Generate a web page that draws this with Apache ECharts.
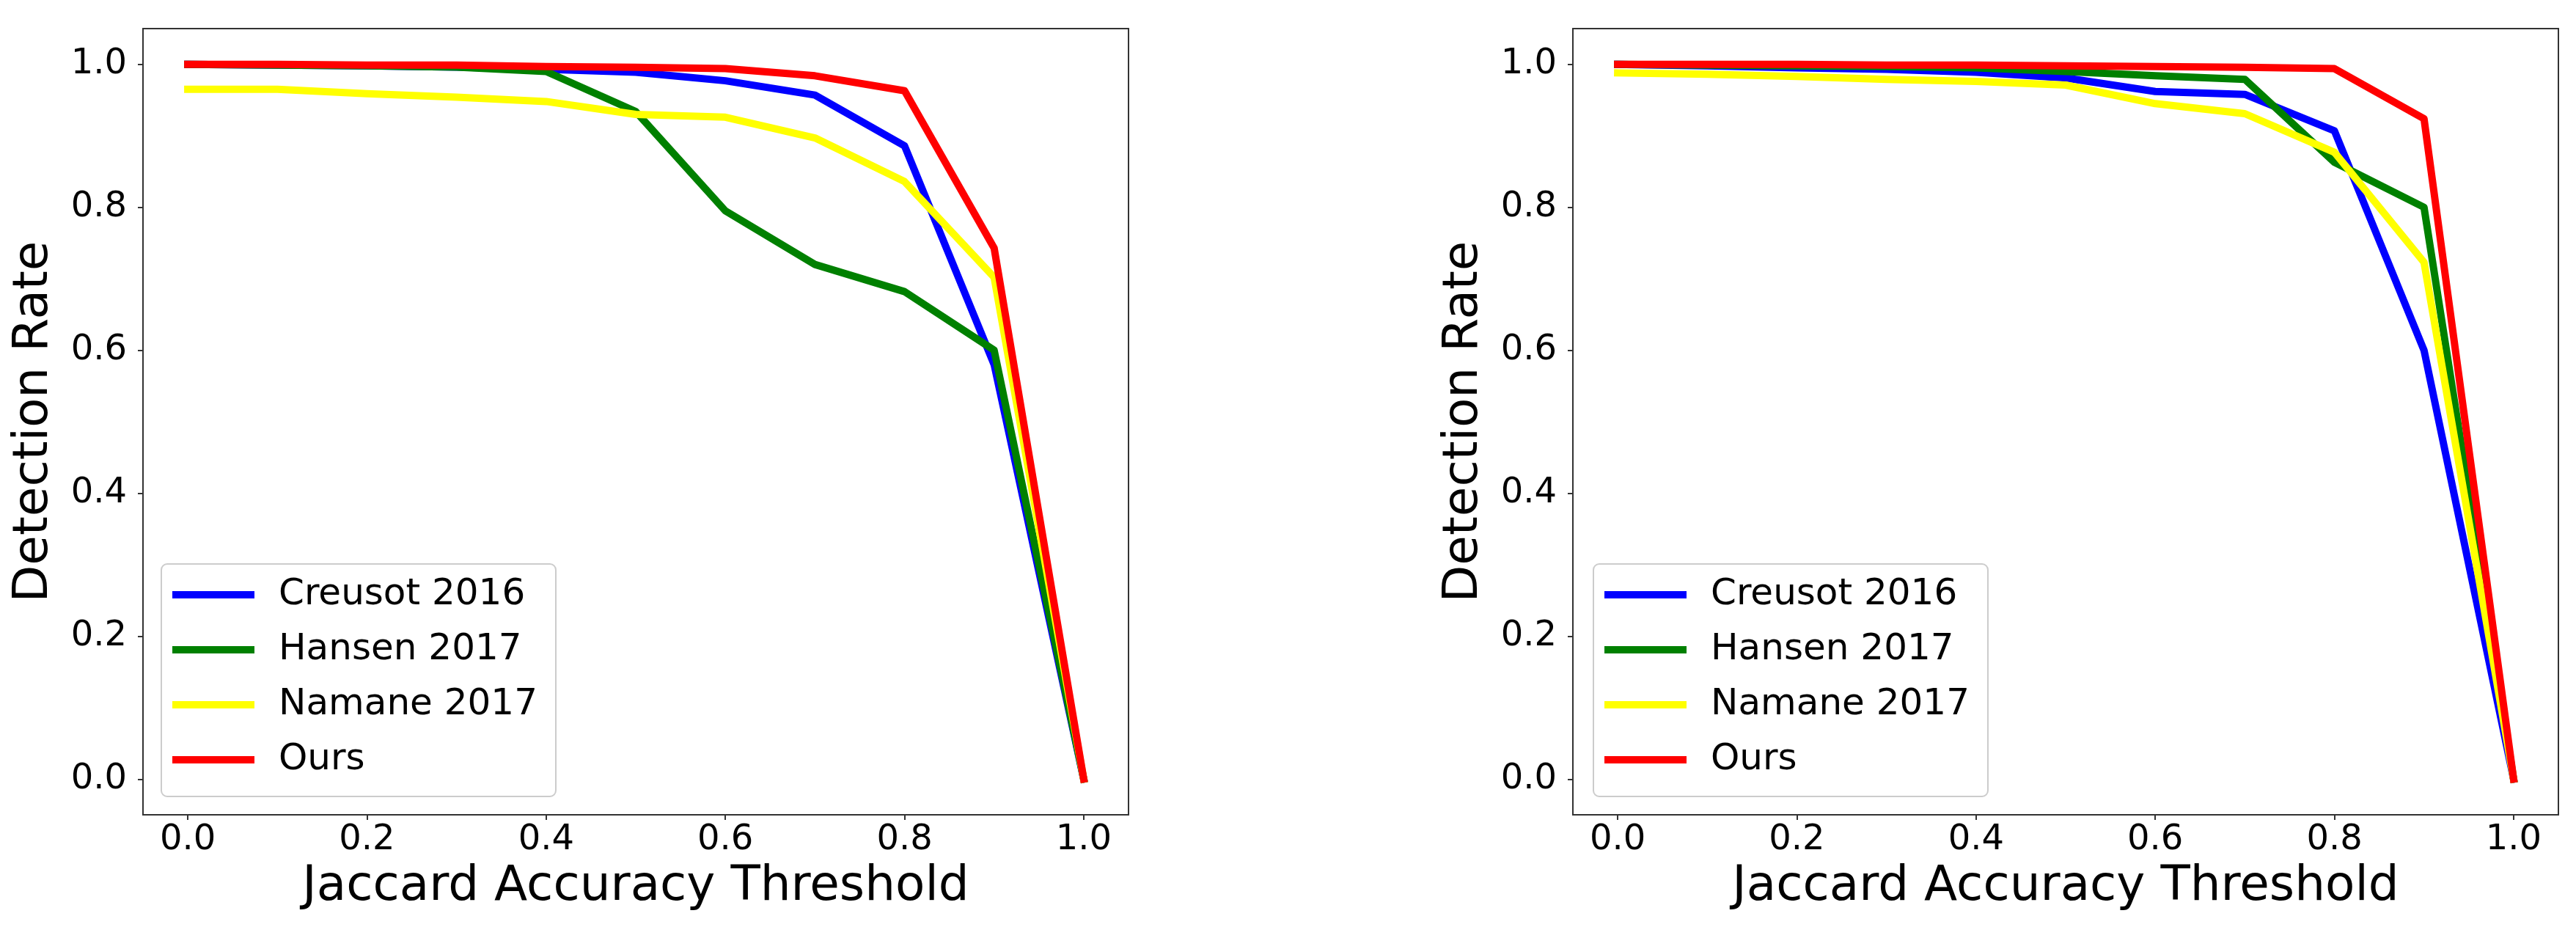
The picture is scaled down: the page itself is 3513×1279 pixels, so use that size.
<!DOCTYPE html>
<html>
<head>
<meta charset="utf-8">
<title>Detection Rate vs Jaccard Accuracy Threshold</title>
<script src="https://cdn.jsdelivr.net/npm/echarts@6/dist/echarts.min.js"></script>
<style>
    html, body { margin: 0; padding: 0; background: #fff; }
    #main { width: 3513px; height: 1279px; }
</style>
</head>
<body>
<div id="main"></div>
<script>
// thresholds on the x axis
var thresholds = [0, 0.1, 0.2, 0.3, 0.4, 0.5, 0.6, 0.7, 0.8, 0.9, 1.0];
var tickValues = [0, 0.2, 0.4, 0.6, 0.8, 1.0];
var methodNames = ['Creusot 2016', 'Hansen 2017', 'Namane 2017', 'Ours'];
var methodColors = ['#0000ff', '#008000', '#ffff00', '#ff0000'];

// left plot
var creusotLeft = [1.0, 0.999, 0.998, 0.996, 0.993, 0.989, 0.977, 0.957, 0.886, 0.58, 0];
var hansenLeft  = [1.0, 0.999, 0.998, 0.996, 0.990, 0.934, 0.795, 0.72, 0.682, 0.600, 0];
var namaneLeft  = [0.965, 0.965, 0.959, 0.954, 0.948, 0.930, 0.926, 0.897, 0.836, 0.702, 0];
var oursLeft    = [1.0, 1.0, 0.999, 0.999, 0.997, 0.996, 0.994, 0.984, 0.963, 0.743, 0];

// right plot
var creusotRight = [1.0, 0.998, 0.995, 0.993, 0.989, 0.981, 0.962, 0.958, 0.907, 0.600, 0];
var hansenRight  = [1.0, 0.999, 0.998, 0.997, 0.995, 0.990, 0.984, 0.979, 0.863, 0.800, 0];
var namaneRight  = [0.988, 0.986, 0.983, 0.979, 0.976, 0.971, 0.945, 0.931, 0.877, 0.723, 0];
var oursRight    = [1.0, 1.0, 1.0, 0.999, 0.999, 0.998, 0.997, 0.996, 0.994, 0.924, 0];

var FONT = '"DejaVu Sans", "Liberation Sans", sans-serif';

// pair each value with its threshold
var toPoints = function (values) {
    return thresholds.map(function (x, i) {
        return [x, values[i]];
    });
};

var makeX = function (gridIndex) {
    return {
        type: 'value',
        gridIndex: gridIndex,
        min: -0.05,
        max: 1.05,
        name: 'Jaccard Accuracy Threshold',
        nameLocation: 'middle',
        nameGap: 66,
        nameTextStyle: { fontFamily: FONT, fontSize: 66, color: '#000' },
        axisLine: { show: false, onZero: false },
        axisTick: {
            show: true, length: 7, customValues: tickValues,
            lineStyle: { color: '#333', width: 2 }
        },
        axisLabel: {
            customValues: tickValues, margin: 11,
            fontFamily: FONT, fontSize: 48, color: '#000',
            formatter: function (v) { return v.toFixed(1); }
        },
        splitLine: { show: false }
    };
};

var makeY = function (gridIndex) {
    return {
        type: 'value',
        gridIndex: gridIndex,
        min: -0.05,
        max: 1.05,
        name: 'Detection Rate',
        nameLocation: 'middle',
        nameGap: 115,
        nameTextStyle: { fontFamily: FONT, fontSize: 66, color: '#000' },
        axisLine: { show: false, onZero: false },
        axisTick: {
            show: true, length: 7, customValues: tickValues,
            lineStyle: { color: '#333', width: 2 }
        },
        axisLabel: {
            customValues: tickValues, margin: 22,
            fontFamily: FONT, fontSize: 48, color: '#000',
            formatter: function (v) { return v.toFixed(1); }
        },
        splitLine: { show: false }
    };
};

var makeLegend = function (left) {
    return {
        orient: 'vertical',
        left: left,
        top: 769,
        data: methodNames,
        icon: 'rect',
        itemWidth: 112,
        itemHeight: 10,
        itemGap: 25,
        padding: [17, 25, 25, 15],
        borderColor: '#cccccc',
        borderWidth: 2,
        borderRadius: 8,
        backgroundColor: 'rgba(255,255,255,0.8)',
        textStyle: {
            fontFamily: FONT, fontSize: 50, color: '#000',
            lineHeight: 50, padding: [0, 0, 0, 28]
        }
    };
};

var makeSeries = function (lists, axisIndex) {
    return lists.map(function (values, i) {
        return {
            name: methodNames[i],
            type: 'line',
            xAxisIndex: axisIndex,
            yAxisIndex: axisIndex,
            data: toPoints(values),
            showSymbol: false,
            color: methodColors[i],
            lineStyle: { width: 10, color: methodColors[i], cap: 'square', join: 'round' },
            animation: false
        };
    });
};

var box = document.getElementById('main');
var myChart = echarts.init(box);

var option = {
    backgroundColor: '#fff',
    animation: false,
    grid: [
        { left: 195, top: 39, width: 1344, height: 1072, show: true, borderColor: '#333', borderWidth: 2, backgroundColor: 'transparent' },
        { left: 2145, top: 39, width: 1344, height: 1072, show: true, borderColor: '#333', borderWidth: 2, backgroundColor: 'transparent' }
    ],
    legend: [makeLegend(220), makeLegend(2173)],
    xAxis: [makeX(0), makeX(1)],
    yAxis: [makeY(0), makeY(1)],
    series: makeSeries([creusotLeft, hansenLeft, namaneLeft, oursLeft], 0)
        .concat(makeSeries([creusotRight, hansenRight, namaneRight, oursRight], 1))
};

myChart.setOption(option);
</script>
</body>
</html>
